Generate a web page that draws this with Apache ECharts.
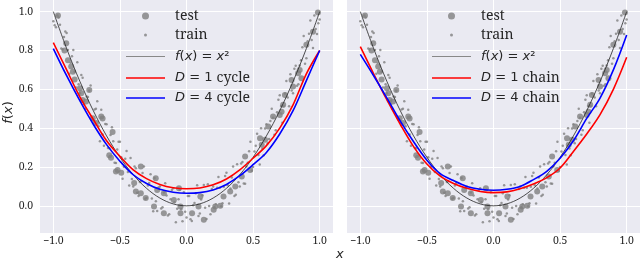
<!DOCTYPE html>
<html><head><meta charset="utf-8">
<script src="https://cdn.jsdelivr.net/npm/echarts@6/dist/echarts.min.js"></script>
<style>html,body{margin:0;padding:0;background:#fff}#c{width:640px;height:261px}</style>
</head><body><div id="c"></div>
<script>
// ---- data ----
const xs = [-1.0,-0.9,-0.8,-0.7,-0.6,-0.5,-0.4,-0.3,-0.2,-0.1,0.0,0.1,0.2,0.3,0.4,0.5,0.6,0.7,0.8,0.9,1.0];
const fx = [1.0,0.81,0.64,0.49,0.36,0.25,0.16,0.09,0.04,0.01,0.0,0.01,0.04,0.09,0.16,0.25,0.36,0.49,0.64,0.81,1.0];
const d1Cycle = [0.84,0.70,0.56,0.445,0.335,0.255,0.185,0.14,0.11,0.093,0.088,0.092,0.108,0.138,0.185,0.245,0.31,0.40,0.52,0.68,0.80];
const d4Cycle = [0.81,0.67,0.54,0.42,0.315,0.23,0.16,0.115,0.085,0.07,0.065,0.068,0.082,0.11,0.155,0.212,0.275,0.37,0.49,0.645,0.80];
const d1Chain = [0.82,0.68,0.545,0.42,0.305,0.215,0.153,0.115,0.09,0.074,0.068,0.072,0.088,0.112,0.145,0.195,0.28,0.37,0.47,0.60,0.765];
const d4Chain = [0.78,0.67,0.555,0.436,0.33,0.235,0.166,0.13,0.10,0.085,0.08,0.085,0.10,0.135,0.178,0.245,0.335,0.45,0.555,0.70,0.88];
const xTicks = [-1.0,-0.5,0.0,0.5,1.0];
const yTicks = [0.0,0.2,0.4,0.6,0.8,1.0];
const testPts = [
[-0.965,0.98],[-0.903,0.837],[-0.916,0.80],[-0.89,0.75],[-0.866,0.717],[-0.853,0.69],[-0.84,0.65],[-0.80,0.605],[-0.79,0.58],[-0.73,0.597],[-0.78,0.545],[-0.754,0.537],[-0.704,0.451],[-0.63,0.45],[-0.68,0.427],[-0.64,0.46],[-0.555,0.38],[-0.58,0.26],[-0.567,0.247],[-0.53,0.177],[-0.517,0.185],[-0.49,0.17],[-0.343,0.202],[-0.393,0.117],[-0.38,0.074],[-0.343,0.065],[-0.306,0.04],[-0.231,0.142],[-0.244,-0.003],[-0.22,0.082],[-0.17,0.065],[-0.17,-0.038],[-0.095,0.03],[-0.057,0.091],[-0.045,-0.038],[-0.045,-0.003],[0.042,-0.038],[0.09,-0.003],[0.104,0.048],[0.13,-0.072],[0.204,-0.02],[0.216,-0.004],[0.254,0.0],[0.278,0.048],[0.328,0.074],[0.366,0.1],[0.415,0.151],[0.44,0.254],[0.478,0.185],[0.552,0.348],[0.565,0.314],[0.59,0.34],[0.614,0.408],[0.65,0.46],[0.70,0.468],[0.714,0.485],[0.726,0.52],[0.739,0.571],[0.789,0.648],[0.80,0.614],[0.838,0.683],[0.85,0.70],[0.863,0.657],[0.90,0.829],[0.95,0.897],[0.987,0.995]
];
const trainPts = [
[-1.00,0.95],[-0.98,0.92],[-0.96,0.97],[-0.94,0.81],[-0.92,0.87],[-0.90,0.89],[-0.88,0.68],[-0.86,0.77],[-0.84,0.69],[-0.82,0.74],
[-0.80,0.58],[-0.78,0.66],[-0.76,0.50],[-0.74,0.56],[-0.72,0.62],[-0.70,0.44],[-0.68,0.50],[-0.66,0.41],[-0.64,0.495],[-0.62,0.31],
[-0.60,0.42],[-0.58,0.296],[-0.56,0.404],[-0.54,0.222],[-0.52,0.29],[-0.50,0.33],[-0.48,0.14],[-0.46,0.242],[-0.44,0.174],[-0.42,0.246],
[-0.40,0.10],[-0.38,0.194],[-0.36,0.05],[-0.34,0.126],[-0.32,0.202],[-0.30,0.04],[-0.28,0.118],[-0.26,0.038],[-0.24,0.143],[-0.22,-0.027],
[-0.20,0.10],[-0.18,-0.008],[-0.16,0.116],[-0.14,-0.05],[-0.12,0.034],[-0.10,0.09],[-0.08,-0.084],[-0.06,0.034],[-0.04,-0.018],[-0.02,0.07],
[0.00,-0.06],[0.02,0.05],[0.04,-0.078],[0.06,0.014],[0.08,0.106],[0.10,-0.04],[0.12,0.054],[0.14,-0.01],[0.16,0.111],[0.18,-0.043],
[0.20,0.10],[0.22,0.008],[0.24,0.148],[0.26,-0.002],[0.28,0.098],[0.30,0.17],[0.32,0.012],[0.34,0.146],[0.36,0.05],[0.38,0.214],
[0.40,0.10],[0.42,0.226],[0.44,0.114],[0.46,0.222],[0.48,0.33],[0.50,0.20],[0.52,0.31],[0.54,0.262],[0.56,0.399],[0.58,0.261],
[0.60,0.42],[0.62,0.344],[0.64,0.50],[0.66,0.366],[0.68,0.482],[0.70,0.57],[0.72,0.428],[0.74,0.578],[0.76,0.558],[0.78,0.678],
[0.80,0.58],[0.82,0.722],[0.84,0.626],[0.86,0.75],[0.88,0.874],[0.90,0.76],[0.92,0.886],[0.94,0.854],[0.96,0.98],[0.98,0.885],[1.00,0.96],
[-0.99,0.93],[-0.95,0.933],[-0.91,0.898],[-0.87,0.737],[-0.83,0.609],[-0.79,0.674],[-0.75,0.563],[-0.71,0.444],[-0.67,0.539],[-0.63,0.367],
[-0.59,0.298],[-0.55,0.333],[-0.51,0.33],[-0.47,0.201],[-0.43,0.105],[-0.39,0.202],[-0.35,0.1225],[-0.31,0.036],[-0.27,0.163],[-0.23,0.023],
[-0.19,-0.014],[-0.15,0.053],[-0.11,0.082],[-0.07,-0.015],[-0.03,-0.079],[0.01,0.05],[0.05,0.0025],[0.09,-0.052],[0.13,0.107],[0.17,-0.001],
[0.21,-0.006],[0.25,0.093],[0.29,0.154],[0.33,0.089],[0.37,0.057],[0.41,0.218],[0.45,0.2025],[0.49,0.18],[0.53,0.371],[0.57,0.295],
[0.61,0.322],[0.65,0.453],[0.69,0.546],[0.73,0.513],[0.77,0.513],[0.81,0.706],[0.85,0.7225],[0.89,0.732],[0.93,0.955],[0.97,0.911],
[-0.97,0.98],[-0.93,0.805],[-0.89,0.802],[-0.85,0.8025],[-0.81,0.626],[-0.77,0.523],[-0.73,0.593],[-0.69,0.496],[-0.65,0.3325],[-0.61,0.422],
[-0.57,0.365],[-0.53,0.221],[-0.49,0.25],[-0.45,0.2825],[-0.41,0.138],[-0.37,0.067],[-0.33,0.169],[-0.29,0.104],[-0.25,-0.0275],[-0.21,0.094],
[-0.17,0.069],[-0.13,-0.043],[-0.09,0.018],[-0.05,0.0825],[-0.01,-0.03],[0.03,-0.069],[0.07,0.065],[0.11,0.032],[0.15,-0.0675],[0.19,0.086],
[0.23,0.093],[0.27,0.013],[0.31,0.106],[0.35,0.2025],[0.39,0.122],[0.43,0.115],[0.47,0.281],[0.51,0.28],[0.55,0.2125],[0.59,0.398],
[0.63,0.437],[0.67,0.389],[0.71,0.514],[0.75,0.6425],[0.79,0.594],[0.83,0.619],[0.87,0.817],[0.91,0.848],[0.95,0.813],[0.99,0.94]
];
const panelCurves = [
  {red: 'D = 1 cycle', blue: 'D = 4 cycle', redData: d1Cycle, blueData: d4Cycle},
  {red: 'D = 1 chain', blue: 'D = 4 chain', redData: d1Chain, blueData: d4Chain}
];

// ---- chart ----
const chart = echarts.init(document.getElementById('c'));
const ink = '#262626';
const serif = 'Noto Serif';
const mathSans = 'DejaVu Sans';
const tickFont = {fontFamily: serif, fontSize: 10.5, color: ink};
const grids = [
  {left: 40, top: 0, width: 293, height: 233, show: true, backgroundColor: '#EAEAF2', borderWidth: 0},
  {left: 347, top: 0, width: 293, height: 233, show: true, backgroundColor: '#EAEAF2', borderWidth: 0}
];
const fmtX = v => (v < 0 ? '\u2212' : '') + Math.abs(v).toFixed(1);
const xAxes = [0, 1].map(i => ({
  type: 'value', gridIndex: i, min: -1.1, max: 1.1,
  axisLine: {show: false},
  axisTick: {show: false, customValues: xTicks},
  axisLabel: Object.assign({customValues: xTicks, formatter: fmtX, margin: 3}, tickFont),
  splitLine: {show: true, lineStyle: {color: '#ffffff', width: 1}}
}));
const yAxes = [0, 1].map(i => ({
  type: 'value', gridIndex: i, min: -0.14, max: 1.06,
  axisLine: {show: false},
  axisTick: {show: false, customValues: yTicks},
  axisLabel: Object.assign({show: i === 0, customValues: yTicks, formatter: v => v.toFixed(1), margin: 7}, tickFont),
  splitLine: {show: true, lineStyle: {color: '#ffffff', width: 1}},
  name: i === 0 ? '{i|f}{r|(}{i|x}{r|)}' : '',
  nameLocation: 'middle', nameRotate: 90, nameGap: 25,
  nameTextStyle: {padding: [0, 0, 0, 8], rich: {i: {fontFamily: mathSans, fontStyle: 'italic', fontSize: 13, color: ink}, r: {fontFamily: mathSans, fontSize: 13, color: ink}}}
}));

const series = [];
[0, 1].forEach(i => {
  const pc = panelCurves[i];
  series.push({name: 'test', type: 'scatter', xAxisIndex: i, yAxisIndex: i, data: testPts, symbolSize: 6, itemStyle: {color: '#808080'}, z: 2});
  series.push({name: 'train', type: 'scatter', xAxisIndex: i, yAxisIndex: i, data: trainPts, symbolSize: 2.5, itemStyle: {color: '#808080'}, z: 2});
  series.push({name: 'f(x) = x²', type: 'line', xAxisIndex: i, yAxisIndex: i, data: xs.map((x, k) => [x, fx[k]]), smooth: 0.35, symbol: 'none', lineStyle: {color: '#222222', width: 0.8}, itemStyle: {color: '#888888'}, z: 3});
  series.push({name: pc.red, type: 'line', xAxisIndex: i, yAxisIndex: i, data: xs.map((x, k) => [x, pc.redData[k]]), smooth: 0.35, symbol: 'none', lineStyle: {color: '#ff0000', width: 1.6}, itemStyle: {color: '#ff0000'}, z: 4});
  series.push({name: pc.blue, type: 'line', xAxisIndex: i, yAxisIndex: i, data: xs.map((x, k) => [x, pc.blueData[k]]), smooth: 0.35, symbol: 'none', lineStyle: {color: '#0000ff', width: 1.6}, itemStyle: {color: '#0000ff'}, z: 5});
});

const rich = {
  i: {fontFamily: mathSans, fontStyle: 'italic', fontSize: 13, color: ink, lineHeight: 16},
  r: {fontFamily: mathSans, fontSize: 13, color: ink, lineHeight: 16},
  s: {fontFamily: serif, fontSize: 14, color: ink, lineHeight: 16}
};
const labelOf = {
  'test': '{s|test}', 'train': '{s|train}',
  'f(x) = x²': '{i|f}{r|(}{i|x}{r|) = }{i|x}{r|²}',
  'D = 1 cycle': '{i|D}{r| = 1 }{s|cycle}', 'D = 4 cycle': '{i|D}{r| = 4 }{s|cycle}',
  'D = 1 chain': '{i|D}{r| = 1 }{s|chain}', 'D = 4 chain': '{i|D}{r| = 4 }{s|chain}'
};
const rows = [17, 36, 58, 79, 99];
const legends = [];
[126, 432].forEach((lx, p) => {
  const names = ['test', 'train', 'f(x) = x²', panelCurves[p].red, panelCurves[p].blue];
  const icons = ['circle', 'circle', 'rect', 'rect', 'rect'];
  const hs = [7, 3, 1, 1.6, 1.6];
  // circle icons: the legend box starts at the visible dot, not the icon slot
  const shift = [16, 18, 0, 0, 0];
  names.forEach((n, k) => {
    legends.push({
      data: [n], left: lx + shift[k], top: rows[k] - 8, padding: 0, itemWidth: 39, itemHeight: hs[k], icon: icons[k],
      selectedMode: false, formatter: nm => labelOf[nm],
      textStyle: {rich: rich, padding: [0, 0, 0, 5]}
    });
  });
});

chart.setOption({
  animation: false,
  grid: grids, xAxis: xAxes, yAxis: yAxes, series: series, legend: legends,
  graphic: [{type: 'text', left: 336, top: 248, style: {text: 'x', fontFamily: mathSans, fontStyle: 'italic', fontSize: 13, fill: ink}}]
});
</script></body></html>
